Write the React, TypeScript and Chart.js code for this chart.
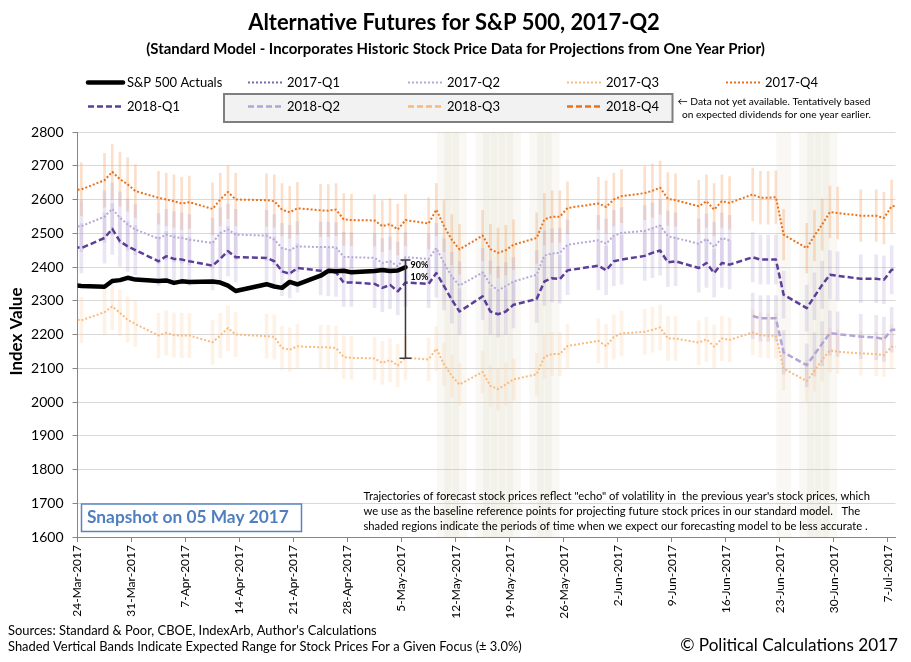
import React, { useEffect, useRef } from "react";
import { Chart, registerables } from "chart.js";

Chart.register(...registerables);

const FONT = "Lato, 'Noto Sans', sans-serif";
const DAY = 86400000;

// ---------- texts ----------
const titleText = "Alternative Futures for S&P 500, 2017-Q2";
const subtitleText =
  "(Standard Model - Incorporates Historic Stock Price Data for Projections from One Year Prior)";
const yTitle = "Index Value";
const snapshotText = "Snapshot on 05 May 2017";
const noteLines = [
  "\u2190 Data not yet available. Tentatively based",
  "on expected dividends for one year earlier.",
];
const annotationLines = [
  'Trajectories of forecast stock prices reflect "echo" of volatility in  the previous year\'s stock prices, which',
  "we use as the baseline reference points for projecting future stock prices in our standard model.   The",
  "shaded regions indicate the periods of time when we expect our forecasting model to be less accurate .",
];
const footerLines = [
  "Sources: Standard & Poor, CBOE, IndexArb, Author's Calculations",
  "Shaded Vertical Bands Indicate Expected Range for Stock Prices For a Given Focus (\u00b1 3.0%)",
];
const copyrightText = "\u00a9 Political Calculations 2017";

// ---------- axes ----------
const axisStart = "2017-03-24";
const axisEnd = "2017-07-08";
const yMin = 1600;
const yMax = 2800;
const yStep = 100;
const tickLabels = [
  "24-Mar-2017", "31-Mar-2017", "7-Apr-2017", "14-Apr-2017", "21-Apr-2017",
  "28-Apr-2017", "5-May-2017", "12-May-2017", "19-May-2017", "26-May-2017",
  "2-Jun-2017", "9-Jun-2017", "16-Jun-2017", "23-Jun-2017", "30-Jun-2017", "7-Jul-2017",
];

// ---------- data ----------
const tradingDates = [
  "2017-03-23", "2017-03-24",
  "2017-03-27", "2017-03-28", "2017-03-29", "2017-03-30", "2017-03-31",
  "2017-04-03", "2017-04-04", "2017-04-05", "2017-04-06", "2017-04-07",
  "2017-04-10", "2017-04-11", "2017-04-12", "2017-04-13",
  "2017-04-17", "2017-04-18", "2017-04-19", "2017-04-20", "2017-04-21",
  "2017-04-24", "2017-04-25", "2017-04-26", "2017-04-27", "2017-04-28",
  "2017-05-01", "2017-05-02", "2017-05-03", "2017-05-04", "2017-05-05",
  "2017-05-08", "2017-05-09", "2017-05-10", "2017-05-11", "2017-05-12",
  "2017-05-15", "2017-05-16", "2017-05-17", "2017-05-18", "2017-05-19",
  "2017-05-22", "2017-05-23", "2017-05-24", "2017-05-25", "2017-05-26",
  "2017-05-30", "2017-05-31", "2017-06-01", "2017-06-02",
  "2017-06-05", "2017-06-06", "2017-06-07", "2017-06-08", "2017-06-09",
  "2017-06-12", "2017-06-13", "2017-06-14", "2017-06-15", "2017-06-16",
  "2017-06-19", "2017-06-20", "2017-06-21", "2017-06-22", "2017-06-23",
  "2017-06-26", "2017-06-27", "2017-06-28", "2017-06-29", "2017-06-30",
  "2017-07-03",
  "2017-07-05", "2017-07-06", "2017-07-07",
  "2017-07-10",
];

const spActuals = [
  2345.96, 2343.98,
  2341.59, 2358.57, 2361.13, 2368.06, 2362.72,
  2358.84, 2360.16, 2352.95, 2357.49, 2355.54,
  2357.16, 2353.78, 2344.93, 2328.95,
  2349.01, 2342.19, 2338.17, 2355.84, 2348.69,
  2374.15, 2388.61, 2387.45, 2388.77, 2384.2,
  2388.33, 2391.17, 2388.13, 2389.52, 2399.29,
];

const q4of2017 = [
  2628, 2630,
  2657, 2682, 2660, 2645, 2625,
  2605, 2600, 2595, 2588, 2592,
  2572, 2600, 2622, 2600,
  2598, 2595, 2570, 2562, 2574,
  2568, 2567, 2570, 2541, 2539,
  2538, 2521, 2527, 2511, 2539,
  2529, 2570, 2521, 2481, 2452,
  2493, 2453, 2442, 2450, 2466,
  2486, 2541, 2549, 2549, 2575,
  2588, 2578, 2600, 2610,
  2619, 2626, 2635, 2602, 2598,
  2580, 2595, 2570, 2595, 2590,
  2615, 2605, 2605, 2607, 2496,
  2456, 2493, 2526, 2563, 2560,
  2552,
  2552, 2545, 2580,
  2585,
];

const q2of2017 = [
  2519, 2521,
  2549, 2572, 2546, 2526, 2511,
  2484, 2496, 2489, 2486, 2481,
  2471, 2501, 2511, 2496,
  2493, 2481, 2456, 2450, 2461,
  2459, 2459, 2458, 2430, 2429,
  2427, 2412, 2417, 2402, 2429,
  2424, 2456, 2412, 2372, 2345,
  2384, 2348, 2331, 2343, 2357,
  2377, 2434, 2440, 2442, 2466,
  2479, 2469, 2493, 2501,
  2507, 2515, 2523, 2491, 2486,
  2469, 2483, 2459, 2486, 2479,
  null, null, null, null, null,
  null, null, null, null, null,
  null,
  null, null, null,
  null,
];

const q1of2018 = [
  2460, 2456,
  2486, 2513, 2476, 2461, 2450,
  2417, 2432, 2424, 2422, 2417,
  2404, 2424, 2447, 2429,
  2427, 2417, 2387, 2380, 2397,
  2389, 2386, 2384, 2354, 2354,
  2350, 2338, 2347, 2328, 2354,
  2350, 2382, 2343, 2303, 2268,
  2313, 2268, 2260, 2268, 2288,
  2305, 2357, 2367, 2364, 2390,
  2404, 2390, 2417, 2422,
  2433, 2442, 2449, 2414, 2417,
  2397, 2412, 2382, 2412, 2407,
  2429, 2422, 2422, 2422, 2318,
  2278, 2313, 2347, 2377, 2374,
  2365,
  2365, 2362, 2392,
  2390,
];

const q3of2017 = [
  2246, 2242,
  2266, 2283, 2264, 2244, 2231,
  2197, 2205, 2198, 2197, 2197,
  2177, 2197, 2219, 2200,
  2195, 2193, 2160, 2155, 2165,
  2162, 2162, 2160, 2133, 2131,
  2129, 2116, 2124, 2108, 2131,
  2126, 2158, 2112, 2077, 2052,
  2089, 2048, 2038, 2052, 2067,
  2082, 2134, 2142, 2142, 2166,
  2181, 2166, 2193, 2203,
  2208, 2214, 2221, 2188, 2188,
  2176, 2186, 2164, 2188, 2184,
  2206, 2198, 2196, 2196, 2099,
  2062, 2092, 2125, 2153, 2149,
  2144,
  2142, 2139, 2164,
  2165,
];

const q2of2018 = [
  null, null,
  null, null, null, null, null,
  null, null, null, null, null,
  null, null, null, null,
  null, null, null, null, null,
  null, null, null, null, null,
  null, null, null, null, null,
  null, null, null, null, null,
  null, null, null, null, null,
  null, null, null, null, null,
  null, null, null, null,
  null, null, null, null, null,
  null, null, null, null, null,
  2255, 2248, 2248, 2248, 2147,
  2109, 2141, 2173, 2204, 2201,
  2194,
  2191, 2186, 2214,
  2215,
];

// series listed in the legend without visible values in this snapshot
const q1of2017: (number | null)[] = [];
const q3of2018: (number | null)[] = [];
const q4of2018: (number | null)[] = [];

const rangePct = 0.03; // ± 3.0% expected range
const bandDates = [
  "2017-05-10", "2017-05-11", "2017-05-12",
  "2017-05-15", "2017-05-16", "2017-05-17", "2017-05-18", "2017-05-19",
  "2017-05-22", "2017-05-23", "2017-05-24",
  "2017-06-23",
  "2017-06-26", "2017-06-27", "2017-06-28", "2017-06-29",
];

const snapshotDate = "2017-05-05";
const snapshotRange = [2130, 2421];

// ---------- styles ----------
const STY: Record<string, { color: string; width: number; dash: number[] }> = {
  actual: { color: "#000000", width: 4.5, dash: [] },
  q1_2017: { color: "#7d66b0", width: 2, dash: [2, 2] },
  q2_2017: { color: "#b5a9d9", width: 2, dash: [2, 2] },
  q3_2017: { color: "#f9bb7e", width: 2, dash: [2, 2] },
  q4_2017: { color: "#e9721d", width: 2, dash: [2, 2] },
  q1_2018: { color: "#5c3e99", width: 2.5, dash: [6, 3] },
  q2_2018: { color: "#b1a5d8", width: 2.5, dash: [6, 3] },
  q3_2018: { color: "#f8b878", width: 2.5, dash: [6, 3] },
  q4_2018: { color: "#e9721d", width: 2.5, dash: [6, 3] },
};

const legendRows: [string, string][][] = [
  [["S&P 500 Actuals", "actual"], ["2017-Q1", "q1_2017"], ["2017-Q2", "q2_2017"], ["2017-Q3", "q3_2017"], ["2017-Q4", "q4_2017"]],
  [["2018-Q1", "q1_2018"], ["2018-Q2", "q2_2018"], ["2018-Q3", "q3_2018"], ["2018-Q4", "q4_2018"]],
];

// ---------- helpers ----------
const toX = (s: string) => (Date.parse(s) - Date.parse(axisStart)) / DAY + 0.5;
const MONTHS = ["Jan", "Feb", "Mar", "Apr", "May", "Jun", "Jul", "Aug", "Sep", "Oct", "Nov", "Dec"];
const labelDay = (l: string) => {
  const [d, m, y] = l.split("-");
  return (Date.UTC(+y, MONTHS.indexOf(m), +d) - Date.parse(axisStart)) / DAY;
};

const linePoints = (vals: (number | null)[]) =>
  vals.map((v, i) => ({ x: toX(tradingDates[i]), y: v }));

const rangeBars = (vals: (number | null)[]) =>
  vals
    .map((v, i) => (v == null ? null : { x: toX(tradingDates[i]), y: [v * (1 - rangePct), v * (1 + rangePct)] }))
    .filter(Boolean);

const lineDs = (key: string, vals: (number | null)[], order: number) => ({
  type: "line" as const,
  data: linePoints(vals),
  borderColor: STY[key].color,
  borderWidth: STY[key].width,
  borderDash: STY[key].dash,
  borderCapStyle: key === "actual" ? "round" : "butt",
  borderJoinStyle: "round",
  pointRadius: 0,
  tension: 0,
  fill: false,
  spanGaps: false,
  clip: 0,
  order,
});

const barDs = (data: any[], color: string, thickness: number, order: number) => ({
  type: "bar" as const,
  data,
  backgroundColor: color,
  borderWidth: 0,
  barThickness: thickness,
  grouped: false,
  clip: 0,
  order,
});

function fitText(
  ctx: CanvasRenderingContext2D, text: string, x: number, y: number, w: number,
  weight: string, align: CanvasTextAlign = "left", color = "#000"
) {
  ctx.font = `${weight} 20px ${FONT}`;
  const m = ctx.measureText(text).width;
  const size = (20 * w) / m;
  ctx.font = `${weight} ${size}px ${FONT}`;
  ctx.textAlign = align;
  ctx.textBaseline = "middle";
  ctx.fillStyle = color;
  ctx.fillText(text, x, y);
}

const decorPlugin = {
  id: "decor",
  afterDatasetsDraw(chart: any) {
    const ctx: CanvasRenderingContext2D = chart.ctx;
    const xs = chart.scales.x;
    const ys = chart.scales.y;
    ctx.save();
    // snapshot range marker
    const px = xs.getPixelForValue(toX(snapshotDate));
    const yTop = ys.getPixelForValue(snapshotRange[1]);
    const yBot = ys.getPixelForValue(snapshotRange[0]);
    ctx.strokeStyle = "#3a3a3a";
    ctx.lineWidth = 1.5;
    ctx.beginPath();
    ctx.moveTo(px, yTop);
    ctx.lineTo(px, yBot);
    ctx.moveTo(px - 5, yTop);
    ctx.lineTo(px + 5, yTop);
    ctx.moveTo(px - 6, yBot);
    ctx.lineTo(px + 6, yBot);
    ctx.stroke();
    ctx.font = `bold 9px ${FONT}`;
    ctx.textAlign = "left";
    ctx.textBaseline = "middle";
    ctx.fillStyle = "#000";
    ctx.fillText("90%", px + 5, yTop + 5.5);
    ctx.fillText("10%", px + 5, yTop + 17.5);
    ctx.restore();
  },
  afterDraw(chart: any) {
    const ctx: CanvasRenderingContext2D = chart.ctx;
    const ca = chart.chartArea;
    ctx.save();
    // titles
    fitText(ctx, titleText, 454, 23, 412, "bold", "center");
    fitText(ctx, subtitleText, 455.5, 49, 619, "bold", "center");

    // legend box
    ctx.fillStyle = "#f2f2f2";
    ctx.fillRect(224, 94, 448.5, 28);
    ctx.strokeStyle = "#7f7f7f";
    ctx.lineWidth = 2;
    ctx.strokeRect(224, 94, 448.5, 28);

    const colX = [88, 248, 408, 567, 726];
    const rowY = [82.5, 106.5];
    legendRows.forEach((row, r) => {
      row.forEach(([label, key], c) => {
        const s = STY[key];
        const x0 = colX[c];
        const y0 = rowY[r];
        ctx.strokeStyle = s.color;
        ctx.lineWidth = s.width;
        ctx.setLineDash(s.dash);
        ctx.lineCap = key === "actual" ? "round" : "butt";
        ctx.beginPath();
        ctx.moveTo(x0, y0);
        ctx.lineTo(x0 + 35, y0);
        ctx.stroke();
        ctx.setLineDash([]);
        ctx.font = `13px ${FONT}`;
        ctx.textAlign = "left";
        ctx.textBaseline = "middle";
        ctx.fillStyle = "#000";
        ctx.fillText(label, x0 + 39, y0);
      });
    });
    fitText(ctx, noteLines[0], 677.5, 102, 193, "normal");
    fitText(ctx, noteLines[1], 682, 114.5, 189, "normal");

    // y title
    ctx.save();
    ctx.translate(17, (ca.top + ca.bottom) / 2 - 3);
    ctx.rotate(-Math.PI / 2);
    fitText(ctx, yTitle, 0, 0, 88, "bold", "center");
    ctx.restore();

    // snapshot box
    ctx.fillStyle = "#ffffff";
    ctx.fillRect(81.5, 504, 220, 27.5);
    ctx.strokeStyle = "#5b84bf";
    ctx.lineWidth = 1.5;
    ctx.strokeRect(81.5, 504, 220, 27.5);
    fitText(ctx, snapshotText, 87, 517.5, 202, "bold", "left", "#4f7fbf");

    // annotation
    const annW = [507, 497, 505];
    annotationLines.forEach((l, i) => fitText(ctx, l, 363.5, 496 + i * 15, annW[i], "normal"));

    // footers
    fitText(ctx, footerLines[0], 8, 630.5, 369, "normal");
    fitText(ctx, footerLines[1], 8, 647, 514, "normal");
    fitText(ctx, copyrightText, 898, 645, 218, "normal", "right");
    ctx.restore();
  },
};

export default function App() {
  const ref = useRef<HTMLCanvasElement>(null);
  useEffect(() => {
    const xMax = (Date.parse(axisEnd) - Date.parse(axisStart)) / DAY;
    const lav = "rgba(170,150,205,0.24)";
    const datasets: any[] = [
      barDs(bandDates.map((s) => ({ x: toX(s), y: [yMin, yMax] })), "rgba(200,185,150,0.1)", 14, 100),
      barDs(rangeBars(q3of2017), "rgba(252,212,175,0.3)", 3, 60),
      barDs(rangeBars(q4of2017), "rgba(244,170,115,0.38)", 2, 59),
      barDs(rangeBars(q2of2017), lav, 3, 58),
      barDs(rangeBars(q1of2018), lav, 3, 57),
      barDs(rangeBars(q2of2018), lav, 3, 56),
      lineDs("q3_2017", q3of2017, 10),
      lineDs("q2_2017", q2of2017, 9),
      lineDs("q2_2018", q2of2018, 8),
      lineDs("q3_2018", q3of2018, 7),
      lineDs("q4_2018", q4of2018, 6),
      lineDs("q4_2017", q4of2017, 5),
      lineDs("q1_2017", q1of2017, 4),
      lineDs("q1_2018", q1of2018, 3),
      lineDs("actual", spActuals, 1),
    ];
    const chart = new Chart(ref.current as HTMLCanvasElement, {
      type: "line",
      data: { datasets },
      plugins: [decorPlugin],
      options: {
        animation: false,
        responsive: false,
        maintainAspectRatio: false,
        events: [],
        layout: { padding: { top: 132, right: 15.5, bottom: 40, left: 0 } },
        plugins: {
          legend: { display: false },
          title: { display: false },
          tooltip: { enabled: false },
        },
        scales: {
          x: {
            type: "linear",
            min: 0,
            max: xMax,
            offset: false,
            grid: { drawOnChartArea: false, offset: false, tickLength: 5, tickColor: "#868686", tickWidth: 1 },
            border: { color: "#868686", width: 1 },
            ticks: {
              autoSkip: false,
              minRotation: 90,
              maxRotation: 90,
              padding: 3,
              color: "#000",
              font: { family: FONT, size: 12 },
              callback: (_v: any, i: number) => tickLabels[i],
            },
            afterBuildTicks: (scale: any) => {
              scale.ticks = tickLabels.map((l) => ({ value: labelDay(l) }));
            },
            afterFit: (scale: any) => {
              scale.height = 85;
            },
          },
          y: {
            type: "linear",
            min: yMin,
            max: yMax,
            grid: { color: "#d9d9d9", lineWidth: 1, tickLength: 5, tickColor: "#868686" },
            border: { color: "#868686", width: 1 },
            ticks: {
              stepSize: yStep,
              padding: 9,
              color: "#000",
              font: { family: FONT, size: 14 },
              callback: (v: any) => String(v),
            },
            afterFit: (scale: any) => {
              scale.width = 77.5;
            },
          },
        },
      } as any,
    });
    return () => chart.destroy();
  }, []);
  return (
    <div style={{ position: "absolute", left: 0, top: 0, width: 911, height: 662, background: "#ffffff" }}>
      <canvas ref={ref} width={911} height={662} style={{ width: 911, height: 662, display: "block" }} />
    </div>
  );
}
